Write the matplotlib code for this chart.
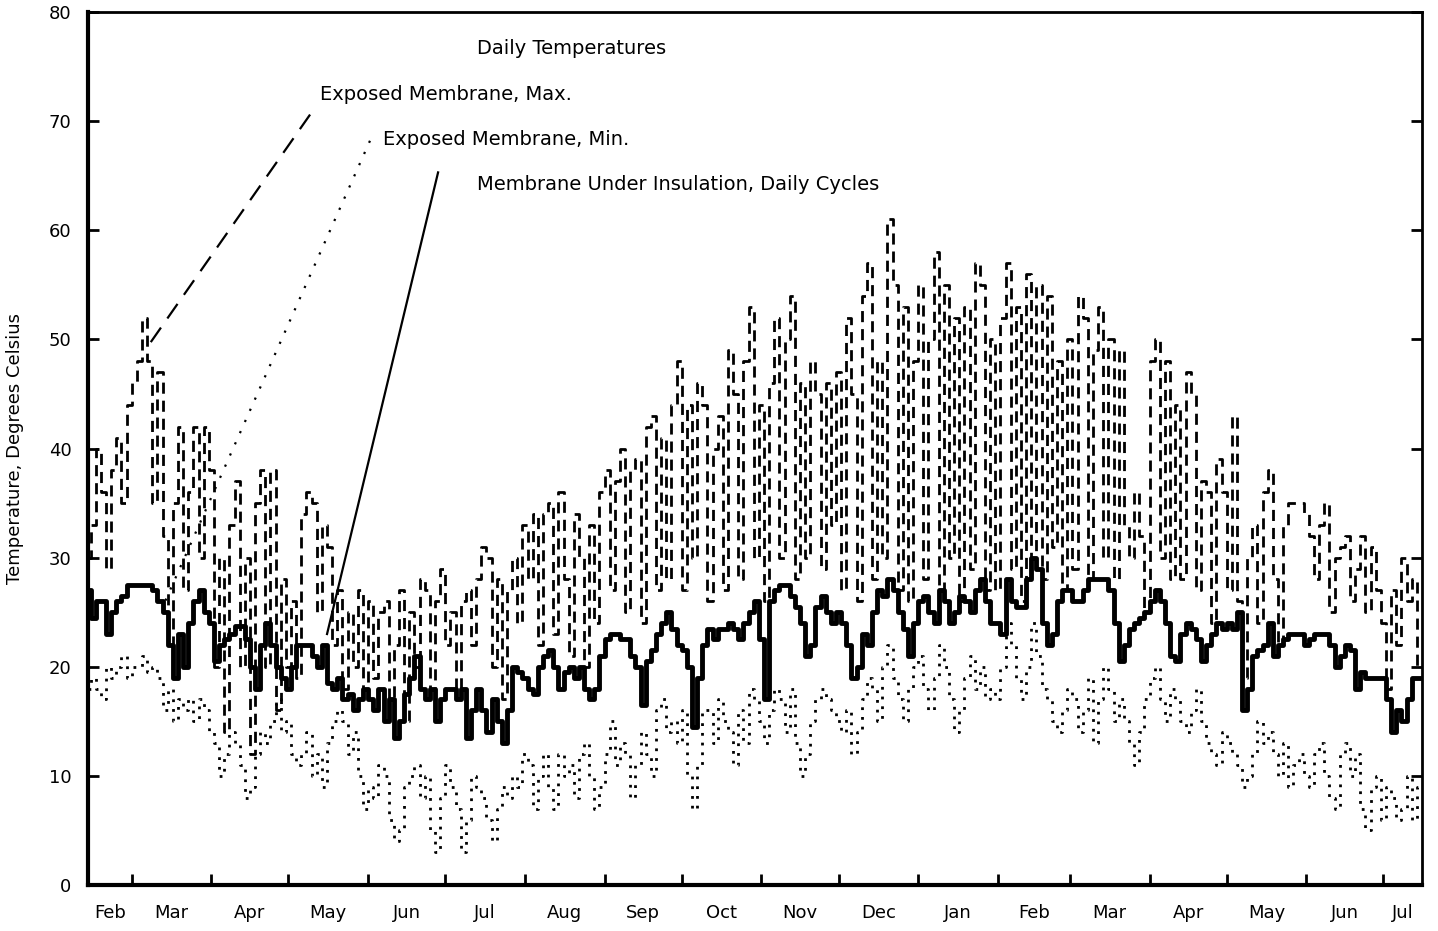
import matplotlib
matplotlib.use("Agg")
import matplotlib.pyplot as plt
import numpy as np

# day 0 = Feb 12 of first year, one reading every 2 days
days = np.arange(0, 520, 2)

month_starts = [17, 48, 78, 109, 139, 170, 201, 231, 262, 292, 323, 354, 382, 413, 443, 474, 504]
month_names = ['Feb', 'Mar', 'Apr', 'May', 'Jun', 'Jul', 'Aug', 'Sep', 'Oct', 'Nov', 'Dec',
               'Jan', 'Feb', 'Mar', 'Apr', 'May', 'Jun', 'Jul']

# exposed membrane, daily max (deg C)
t_max = [
    30, 33, 40, 36, 29, 38, 41, 35, 44,                              # Feb
    46, 48, 52, 48, 35, 47, 32, 22, 35, 42, 27, 36, 42, 30, 42,      # Mar
    38, 20, 30, 14, 33, 37, 20, 30, 12, 35, 38, 20, 38, 16, 28,      # Apr
    20, 26, 19, 34, 36, 35, 25, 33, 31, 22, 27, 18, 25, 20, 27, 17,  # May
    26, 19, 25, 26, 17, 22, 27, 15, 25, 20, 28, 27, 18, 26, 29,      # Jun
    22, 25, 17, 26, 27, 22, 28, 31, 30, 20, 28, 17, 27, 30, 24,      # Jul
    33, 28, 34, 22, 34, 35, 23, 36, 28, 21, 34, 30, 20, 33, 24, 36,  # Aug
    38, 27, 37, 40, 25, 38, 39, 24, 42, 43, 27, 41, 28, 44, 48,      # Sep
    27, 44, 30, 46, 44, 26, 40, 43, 27, 49, 45, 28, 48, 53, 30,      # Oct
    44, 26, 46, 52, 30, 50, 54, 28, 46, 30, 48, 45, 29, 46, 33,      # Nov
    47, 27, 52, 45, 26, 54, 57, 28, 48, 30, 61, 55, 27, 53, 26, 48,  # Dec
    55, 28, 50, 58, 27, 55, 30, 52, 26, 53, 29, 57, 55, 27, 50,      # Jan
    27, 52, 57, 29, 53, 26, 56, 30, 55, 28, 54, 31, 48, 27,          # Feb
    50, 29, 54, 52, 28, 49, 53, 30, 50, 28, 49, 33, 30, 36, 32, 25,  # Mar
    48, 50, 30, 48, 28, 44, 28, 47, 45, 27, 37, 36, 24, 39, 36,      # Apr
    27, 43, 26, 19, 30, 33, 24, 36, 38, 28, 22, 33, 35, 35, 35,      # May
    34, 32, 28, 33, 35, 25, 30, 31, 32, 26, 29, 32, 25, 31, 27,      # Jun
    24, 18, 27, 22, 30, 26, 28, 20,                                  # Jul
]

# exposed membrane, daily min
t_min = [
    18, 19, 18, 17, 20, 19, 20, 21, 19,
    20, 20, 21, 19.5, 20, 19, 16, 18, 15, 17, 16, 17, 15, 17, 16,
    14, 13, 10, 12, 14, 13, 11, 8, 9, 12, 14, 13, 15, 17, 14,
    15, 12, 11, 12, 14, 10, 12, 9, 13, 15, 16, 15, 12, 14, 10, 7,
    9, 8, 11, 10, 6, 4, 5, 9, 10, 11, 8, 10, 5, 3, 8,
    11, 9, 7, 3, 6, 10, 9, 8, 6, 4, 7, 9, 8, 10, 9,
    12, 11, 7, 10, 12, 9, 7, 12, 10, 11, 8, 12, 13, 10, 7, 9,
    12, 15, 11, 13, 12, 8, 11, 14, 12, 10, 16, 17, 14, 15, 13,
    16, 10, 7, 11, 16, 16, 13, 17, 15, 14, 11, 16, 13, 18, 17,
    15, 13, 16, 18, 17, 14, 18, 13, 10, 12, 15, 17, 18, 17, 16,
    15, 14, 16, 12, 14, 17, 19, 18, 15, 20, 22, 19, 17, 15, 18, 20,
    21, 18, 16, 19, 22, 20, 17, 14, 16, 19, 21, 18, 20, 17, 18,
    17, 20, 24, 22, 19, 17, 20, 24, 21, 18, 17, 15, 14, 16,
    18, 17, 14, 16, 19, 13, 17, 20, 18, 15, 17, 15, 13, 11, 14, 17,
    19, 20, 17, 15, 18, 17, 15, 14, 16, 18, 15, 13, 12, 11, 14,
    13, 12, 11, 9, 10, 12, 15, 13, 14, 12, 10, 13, 9, 11, 12,
    10, 9, 12, 13, 10, 8, 7, 12, 13, 10, 12, 7, 5, 9, 10,
    6, 9, 8, 6, 7, 10, 6, 9,
]

# membrane under insulation
t_ins = [
    27, 24.5, 26, 26, 23, 25, 26, 26.5, 27.5,
    27.5, 27.5, 27.5, 27.5, 27, 26, 25, 22, 19, 23, 20, 24, 26, 27, 25,
    24, 20.5, 22, 22.5, 23, 23.7, 23.7, 22.5, 20, 18, 22, 24, 22, 20, 19,
    18, 20, 22, 22, 22, 21, 20, 22, 18.5, 18, 19, 17, 17.5, 16, 17, 18,
    17, 16, 18, 15, 17, 13.5, 15, 17.5, 19, 21, 18, 17, 18, 15, 17,
    18, 18, 17, 18, 13.5, 16, 18, 16, 14, 17, 15, 13, 16, 20, 19.5,
    19, 18, 17.5, 20, 21, 21.5, 20, 18, 19.5, 20, 19, 20, 18, 17, 18, 21,
    22.5, 23, 23, 22.5, 22.5, 21, 20, 16.5, 20.5, 21.5, 23, 24, 25, 23.5, 22,
    21.5, 20, 14.5, 19, 22, 23.5, 22.5, 23.5, 23.5, 24, 23.5, 22.5, 24, 25, 26,
    22.5, 17, 26, 27, 27.5, 27.5, 26.5, 25.5, 24, 21, 22, 25.5, 26.5, 25, 24,
    25, 24, 22, 19, 20, 23, 22, 25, 27, 26.5, 28, 27, 25, 23.5, 21, 24,
    26, 26.5, 25, 24, 27, 26, 24, 25, 26.5, 26, 25, 27, 28, 26, 24,
    24, 23, 28, 26, 25.5, 25.5, 28, 30, 29, 24, 22, 23, 26, 27,
    27, 26, 26, 27, 28, 28, 28, 28, 27, 24, 20.5, 22, 23.5, 24, 24.5, 25,
    26, 27, 26, 24, 21, 20.5, 23, 24, 23.5, 22.5, 20.5, 22, 23, 24, 23.5,
    24, 23.5, 25, 16, 18, 21, 21.5, 22, 24, 21, 22, 22.5, 23, 23, 23,
    22, 22.5, 23, 23, 23, 22, 20, 21, 22, 21.5, 18, 19.5, 19, 19, 19,
    19, 17, 14, 16, 15, 17, 19, 19,
]

labels = ['Exposed Membrane, Max.', 'Exposed Membrane, Min.',
          'Membrane Under Insulation, Daily Cycles']

fig = plt.figure(figsize=(14.38, 9.31), dpi=100)
ax = fig.add_axes([88/1438, 1-885/931, (1422-88)/1438, (885-12)/931])

ax.plot(days, t_max, color='black', lw=2, dashes=(4, 2.5), drawstyle='steps-mid')
ax.plot(days, t_min, color='black', lw=2, dashes=(1, 2.5), drawstyle='steps-mid')
ax.plot(days, t_ins, color='black', lw=3.5, drawstyle='steps-mid')

# leader lines from labels to curves
ax.plot([86.4, 22.2], [70.6, 49], color='black', lw=1.6, dashes=(8, 5))
ax.plot([109.7, 30], [68.2, 26], color='black', lw=1.6, dashes=(1, 4.5))
ax.plot([136.2, 93], [65.3, 23], color='black', lw=1.6)

fs = 14
ax.text(151.4, 76.7, 'Daily Temperatures', fontsize=fs, va='center')
ax.text(90.3, 72.4, labels[0], fontsize=fs, va='center')
ax.text(114.8, 68.3, labels[1], fontsize=fs, va='center')
ax.text(151.4, 64.2, labels[2], fontsize=fs, va='center')

ax.set_xlim(0, 519)
ax.set_ylim(0, 80)
ax.set_yticks(range(0, 81, 10))
ax.set_xticks(month_starts)
ax.set_xticklabels([])
mids = np.convolve([0] + month_starts + [519], [0.5, 0.5], mode='valid')
ax.set_xticks(mids, minor=True)
ax.set_xticklabels(month_names, minor=True)
ax.tick_params(axis='x', which='minor', length=0, pad=14, labelsize=13)
ax.tick_params(axis='x', which='major', direction='in', length=8, width=2)
ax.tick_params(axis='y', direction='in', length=8, width=2, right=True, pad=12, labelsize=13)
ax.set_ylabel('Temperature, Degrees Celsius', fontsize=13, labelpad=18)

for s in ['left', 'bottom']:
    ax.spines[s].set_linewidth(3)
for s in ['top', 'right']:
    ax.spines[s].set_linewidth(2)

fig.savefig('out.png', dpi=100)
